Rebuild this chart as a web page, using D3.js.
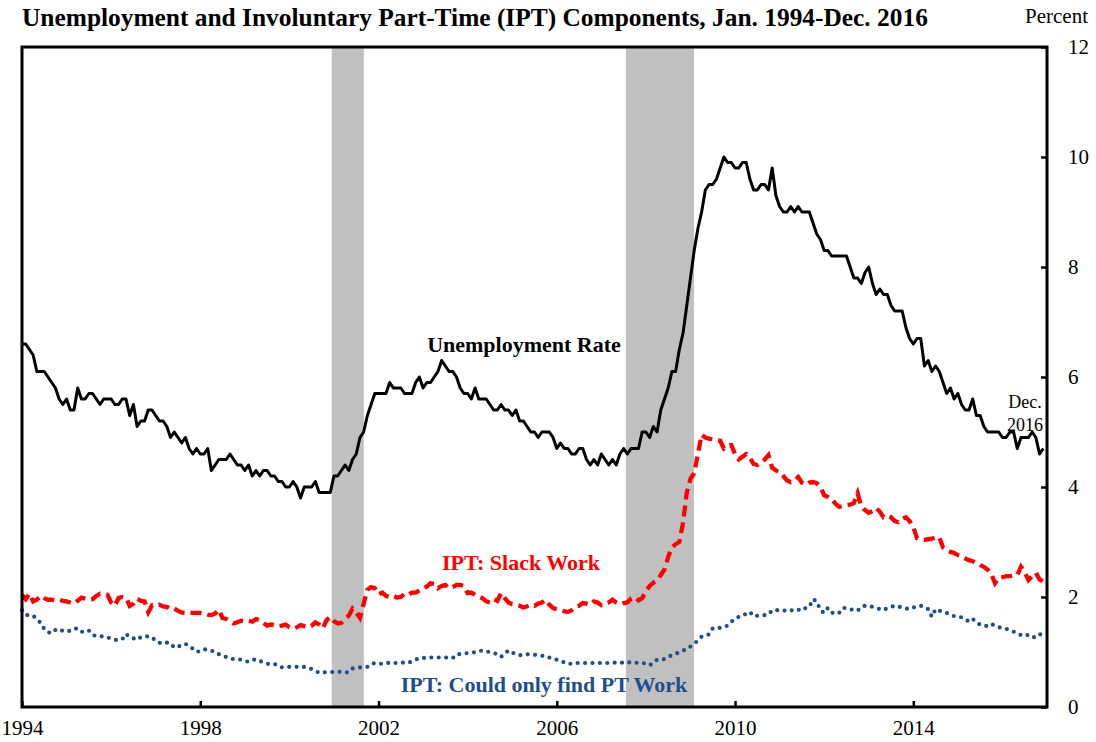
<!DOCTYPE html>
<html>
<head>
<meta charset="utf-8">
<script src="https://cdn.jsdelivr.net/npm/d3@7"></script>
<style>
  body { margin: 0; background: #fff; }
  svg { display: block; }
</style>
</head>
<body>
<svg id="chart" width="1096" height="742"></svg>
<script>
// monthly series, Jan. 1994 - Dec. 2016 (12 values per row)
const startYear = 1994

const unempRate = [
  6.6, 6.6, 6.5, 6.4, 6.1, 6.1, 6.1, 6.0, 5.9, 5.8, 5.6, 5.5, // 1994
  5.6, 5.4, 5.4, 5.8, 5.6, 5.6, 5.7, 5.7, 5.6, 5.5, 5.6, 5.6, // 1995
  5.6, 5.5, 5.5, 5.6, 5.6, 5.3, 5.5, 5.1, 5.2, 5.2, 5.4, 5.4, // 1996
  5.3, 5.2, 5.2, 5.1, 4.9, 5.0, 4.9, 4.8, 4.9, 4.7, 4.6, 4.7, // 1997
  4.6, 4.6, 4.7, 4.3, 4.4, 4.5, 4.5, 4.5, 4.6, 4.5, 4.4, 4.4, // 1998
  4.3, 4.4, 4.2, 4.3, 4.2, 4.3, 4.3, 4.2, 4.2, 4.1, 4.1, 4.0, // 1999
  4.0, 4.1, 4.0, 3.8, 4.0, 4.0, 4.0, 4.1, 3.9, 3.9, 3.9, 3.9, // 2000
  4.2, 4.2, 4.3, 4.4, 4.3, 4.5, 4.6, 4.9, 5.0, 5.3, 5.5, 5.7, // 2001
  5.7, 5.7, 5.7, 5.9, 5.8, 5.8, 5.8, 5.7, 5.7, 5.7, 5.9, 6.0, // 2002
  5.8, 5.9, 5.9, 6.0, 6.1, 6.3, 6.2, 6.1, 6.1, 6.0, 5.8, 5.7, // 2003
  5.7, 5.6, 5.8, 5.6, 5.6, 5.6, 5.5, 5.4, 5.4, 5.5, 5.4, 5.4, // 2004
  5.3, 5.4, 5.2, 5.2, 5.1, 5.0, 5.0, 4.9, 5.0, 5.0, 5.0, 4.9, // 2005
  4.7, 4.8, 4.7, 4.7, 4.6, 4.6, 4.7, 4.7, 4.5, 4.4, 4.5, 4.4, // 2006
  4.6, 4.5, 4.4, 4.5, 4.4, 4.6, 4.7, 4.6, 4.7, 4.7, 4.7, 5.0, // 2007
  5.0, 4.9, 5.1, 5.0, 5.4, 5.6, 5.8, 6.1, 6.1, 6.5, 6.8, 7.3, // 2008
  7.8, 8.3, 8.7, 9.0, 9.4, 9.5, 9.5, 9.6, 9.8, 10.0, 9.9, 9.9, // 2009
  9.8, 9.8, 9.9, 9.9, 9.6, 9.4, 9.4, 9.5, 9.5, 9.4, 9.8, 9.3, // 2010
  9.1, 9.0, 9.0, 9.1, 9.0, 9.1, 9.0, 9.0, 9.0, 8.8, 8.6, 8.5, // 2011
  8.3, 8.3, 8.2, 8.2, 8.2, 8.2, 8.2, 8.0, 7.8, 7.8, 7.7, 7.9, // 2012
  8.0, 7.7, 7.5, 7.6, 7.5, 7.5, 7.3, 7.2, 7.2, 7.2, 6.9, 6.7, // 2013
  6.6, 6.7, 6.7, 6.2, 6.3, 6.1, 6.2, 6.1, 5.9, 5.7, 5.8, 5.6, // 2014
  5.7, 5.5, 5.4, 5.4, 5.6, 5.3, 5.3, 5.1, 5.0, 5.0, 5.0, 5.0, // 2015
  4.9, 4.9, 5.0, 5.0, 4.7, 4.9, 4.9, 4.9, 5.0, 4.9, 4.6, 4.7  // 2016
]

const iptSlackWork = [
  2.04, 1.96, 2.06, 1.92, 1.95, 2.02, 1.98, 1.95, 1.95, 1.94, 1.95, 1.93, // 1994
  1.92, 1.90, 1.88, 1.93, 1.99, 1.97, 1.95, 1.96, 2.02, 2.06, 2.05, 2.04, // 1995
  1.90, 1.84, 1.98, 2.00, 1.99, 1.84, 1.88, 1.97, 1.93, 1.92, 1.72, 1.85, // 1996
  1.84, 1.86, 1.83, 1.82, 1.78, 1.79, 1.75, 1.72, 1.71, 1.72, 1.71, 1.71, // 1997
  1.71, 1.70, 1.68, 1.67, 1.70, 1.77, 1.62, 1.60, 1.56, 1.52, 1.54, 1.57, // 1998
  1.56, 1.57, 1.55, 1.60, 1.58, 1.53, 1.48, 1.50, 1.49, 1.47, 1.48, 1.50, // 1999
  1.45, 1.43, 1.45, 1.49, 1.47, 1.45, 1.48, 1.54, 1.50, 1.43, 1.58, 1.64, // 2000
  1.56, 1.52, 1.53, 1.60, 1.66, 1.79, 1.72, 1.62, 1.88, 2.13, 2.18, 2.16, // 2001
  2.05, 2.08, 2.02, 2.00, 2.02, 1.99, 2.00, 2.06, 2.04, 2.08, 2.08, 2.12, // 2002
  2.14, 2.19, 2.25, 2.24, 2.16, 2.20, 2.22, 2.16, 2.18, 2.22, 2.22, 2.20, // 2003
  2.07, 2.08, 2.04, 2.00, 1.98, 1.92, 1.90, 1.96, 1.93, 2.07, 1.98, 1.90, // 2004
  1.87, 1.86, 1.84, 1.81, 1.83, 1.86, 1.84, 1.88, 1.90, 1.95, 1.86, 1.80, // 2005
  1.78, 1.76, 1.74, 1.73, 1.76, 1.82, 1.84, 1.89, 1.88, 1.86, 1.92, 1.90, // 2006
  1.85, 1.87, 1.90, 1.95, 1.90, 1.87, 1.89, 1.90, 1.97, 2.00, 1.94, 1.98, // 2007
  2.10, 2.20, 2.26, 2.30, 2.40, 2.50, 2.73, 2.90, 2.96, 3.00, 3.35, 3.90, // 2008
  4.15, 4.25, 4.60, 4.95, 4.90, 4.88, 4.86, 4.85, 4.84, 4.70, 4.75, 4.76, // 2009
  4.60, 4.50, 4.55, 4.60, 4.53, 4.42, 4.40, 4.44, 4.50, 4.58, 4.35, 4.30, // 2010
  4.27, 4.20, 4.12, 4.09, 4.12, 4.18, 4.08, 4.04, 4.08, 4.09, 4.07, 4.00, // 2011
  3.85, 3.82, 3.78, 3.70, 3.64, 3.65, 3.67, 3.68, 3.71, 3.89, 3.65, 3.58, // 2012
  3.53, 3.56, 3.62, 3.55, 3.45, 3.47, 3.45, 3.38, 3.36, 3.42, 3.45, 3.38, // 2013
  3.27, 3.07, 3.05, 3.04, 3.05, 3.06, 3.08, 3.09, 2.90, 2.85, 2.82, 2.80, // 2014
  2.76, 2.73, 2.70, 2.67, 2.65, 2.62, 2.58, 2.55, 2.50, 2.42, 2.25, 2.35, // 2015
  2.36, 2.38, 2.38, 2.39, 2.40, 2.55, 2.45, 2.31, 2.38, 2.44, 2.32, 2.28  // 2016
]

const iptOnlyPT = [
  1.76, 1.68, 1.66, 1.66, 1.60, 1.53, 1.42, 1.36, 1.34, 1.40, 1.42, 1.38, // 1994
  1.39, 1.38, 1.42, 1.43, 1.37, 1.36, 1.39, 1.31, 1.29, 1.29, 1.28, 1.27, // 1995
  1.24, 1.22, 1.22, 1.23, 1.33, 1.27, 1.25, 1.22, 1.27, 1.29, 1.28, 1.27, // 1996
  1.20, 1.17, 1.15, 1.17, 1.16, 1.08, 1.09, 1.13, 1.15, 1.10, 1.06, 1.00, // 1997
  1.02, 1.05, 1.04, 1.03, 0.98, 0.96, 0.93, 0.91, 0.88, 0.87, 0.87, 0.86, // 1998
  0.84, 0.82, 0.85, 0.87, 0.84, 0.81, 0.79, 0.77, 0.78, 0.76, 0.72, 0.72, // 1999
  0.73, 0.73, 0.73, 0.72, 0.73, 0.71, 0.69, 0.66, 0.62, 0.63, 0.63, 0.63, // 2000
  0.64, 0.64, 0.64, 0.63, 0.63, 0.70, 0.71, 0.72, 0.73, 0.73, 0.78, 0.80, // 2001
  0.80, 0.78, 0.79, 0.81, 0.80, 0.80, 0.80, 0.81, 0.80, 0.83, 0.86, 0.89, // 2002
  0.89, 0.90, 0.90, 0.90, 0.90, 0.90, 0.90, 0.89, 0.89, 0.96, 0.96, 0.97, // 2003
  0.98, 0.98, 1.00, 1.01, 1.03, 1.01, 1.00, 0.98, 0.96, 0.91, 0.97, 1.03, // 2004
  0.99, 0.96, 0.94, 0.95, 0.96, 0.95, 0.95, 0.94, 0.93, 0.93, 0.90, 0.87, // 2005
  0.86, 0.84, 0.81, 0.78, 0.79, 0.80, 0.80, 0.80, 0.80, 0.80, 0.80, 0.80, // 2006
  0.80, 0.80, 0.80, 0.80, 0.81, 0.80, 0.81, 0.82, 0.80, 0.80, 0.81, 0.80, // 2007
  0.79, 0.76, 0.80, 0.86, 0.87, 0.87, 0.91, 0.94, 0.97, 0.99, 1.02, 1.07, // 2008
  1.10, 1.15, 1.21, 1.28, 1.30, 1.32, 1.43, 1.42, 1.44, 1.45, 1.48, 1.55, // 2009
  1.60, 1.64, 1.65, 1.70, 1.73, 1.65, 1.66, 1.66, 1.67, 1.68, 1.76, 1.76, // 2010
  1.76, 1.76, 1.74, 1.75, 1.78, 1.77, 1.75, 1.80, 1.82, 1.96, 1.92, 1.76, // 2011
  1.71, 1.80, 1.72, 1.69, 1.71, 1.80, 1.80, 1.78, 1.76, 1.75, 1.82, 1.84, // 2012
  1.84, 1.82, 1.80, 1.78, 1.76, 1.80, 1.82, 1.84, 1.83, 1.80, 1.79, 1.78, // 2013
  1.81, 1.82, 1.84, 1.82, 1.78, 1.64, 1.78, 1.75, 1.73, 1.71, 1.69, 1.65, // 2014
  1.64, 1.63, 1.60, 1.55, 1.60, 1.55, 1.49, 1.48, 1.47, 1.51, 1.48, 1.45, // 2015
  1.44, 1.42, 1.40, 1.37, 1.33, 1.31, 1.33, 1.30, 1.26, 1.28, 1.33, 1.27  // 2016
]

// shaded recession bands, in decimal years as drawn
const recessions = [[2000.95, 2001.67], [2007.55, 2009.08]]

const xTickYears = [1994, 1998, 2002, 2006, 2010, 2014]
const yTickValues = [0, 2, 4, 6, 8, 10, 12]

const svg = d3.select("#chart")
const serif = "'Liberation Serif', 'Times New Roman', serif"

const margin = { left: 22, right: 1047, top: 47, bottom: 707 }

var x = d3.scaleLinear()
    .domain([1994, 2017])
    .range([margin.left, margin.right])

var y = d3.scaleLinear()
    .domain([0, 12])
    .range([margin.bottom, margin.top])

const monthX = (d, i) => x(startYear + i / 12)

// recession shading
svg.append("g")
    .selectAll("rect")
    .data(recessions)
    .enter()
    .append("rect")
        .attr("x", d => x(d[0]))
        .attr("y", y(12))
        .attr("width", d => x(d[1]) - x(d[0]))
        .attr("height", y(0) - y(12))
        .attr("fill", "#c0c0c0")

// axes
var yAxis = d3.axisRight(y)
    .tickValues(yTickValues)
    .tickSizeInner(-6)
    .tickSizeOuter(0)
    .tickPadding(21)

svg.append("g")
    .attr("transform", `translate(${margin.right}, 0)`)
    .call(yAxis)
    .call(g => g.select(".domain").remove())
    .call(g => g.selectAll("line").attr("stroke-width", 2.5))
    .call(g => g.selectAll("text")
        .attr("font-family", serif)
        .attr("font-size", 21)
        .attr("fill", "#000"))

var xAxis = d3.axisBottom(x)
    .tickValues(xTickYears)
    .tickFormat(d3.format("d"))
    .tickSizeInner(-6)
    .tickSizeOuter(0)
    .tickPadding(13)

svg.append("g")
    .attr("transform", `translate(0, ${margin.bottom})`)
    .call(xAxis)
    .call(g => g.select(".domain").remove())
    .call(g => g.selectAll("line").attr("stroke-width", 2.5))
    .call(g => g.selectAll("text")
        .attr("font-family", serif)
        .attr("font-size", 21)
        .attr("fill", "#000"))

// series
var line = d3.line()
    .x(monthX)
    .y(d => y(d))

svg.append("path")
    .datum(iptOnlyPT)
    .attr("d", line)
    .attr("fill", "none")
    .attr("stroke", "#1f4e8c")
    .attr("stroke-width", 4.2)
    .attr("stroke-linecap", "round")
    .attr("stroke-dasharray", "0,7.4")

svg.append("path")
    .datum(iptSlackWork)
    .attr("d", line)
    .attr("fill", "none")
    .attr("stroke", "#ff0000")
    .attr("stroke-width", 4.3)
    .attr("stroke-dasharray", "11,6")

svg.append("path")
    .datum(unempRate)
    .attr("d", line)
    .attr("fill", "none")
    .attr("stroke", "#000")
    .attr("stroke-width", 3)
    .attr("stroke-linejoin", "round")

// frame
svg.append("rect")
    .attr("x", margin.left)
    .attr("y", margin.top)
    .attr("width", margin.right - margin.left)
    .attr("height", margin.bottom - margin.top)
    .attr("fill", "none")
    .attr("stroke", "#000")
    .attr("stroke-width", 3)

// title and labels
svg.append("text")
    .attr("x", 22)
    .attr("y", 26)
    .attr("font-family", serif)
    .attr("font-weight", "bold")
    .attr("font-size", 25.4)
    .text("Unemployment and Involuntary Part-Time (IPT) Components, Jan. 1994-Dec. 2016")

svg.append("text")
    .attr("x", 1088)
    .attr("y", 23)
    .attr("text-anchor", "end")
    .attr("font-family", serif)
    .attr("font-size", 21)
    .text("Percent")

const seriesLabels = [
    { text: "Unemployment Rate", x: 524, y: 352, color: "#000" },
    { text: "IPT: Slack Work", x: 521, y: 570, color: "#ff0000" },
    { text: "IPT: Could only find PT Work", x: 544, y: 692, color: "#1f4e8c" }
]

svg.append("g")
    .selectAll("text")
    .data(seriesLabels)
    .enter()
    .append("text")
        .attr("x", d => d.x)
        .attr("y", d => d.y)
        .attr("text-anchor", "middle")
        .attr("font-family", serif)
        .attr("font-weight", "bold")
        .attr("font-size", 22)
        .attr("fill", d => d.color)
        .text(d => d.text)

svg.append("g")
    .selectAll("text")
    .data(["Dec.", "2016"])
    .enter()
    .append("text")
        .attr("x", 1025)
        .attr("y", (d, i) => 408 + i * 23)
        .attr("text-anchor", "middle")
        .attr("font-family", serif)
        .attr("font-size", 18)
        .text(d => d)
</script>
</body>
</html>
